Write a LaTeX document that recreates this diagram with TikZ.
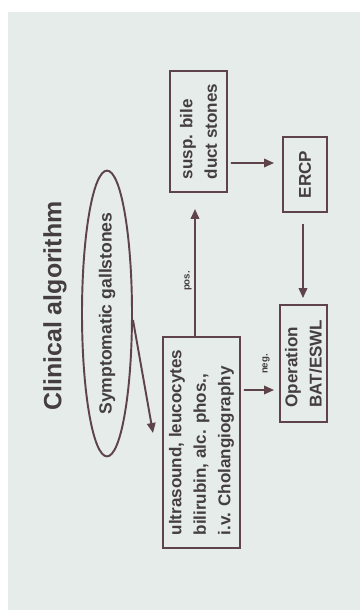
\documentclass[tikz,border=0pt]{standalone}
\usepackage{fontspec}
\setmainfont{Liberation Sans}
\usetikzlibrary{shapes.geometric, arrows.meta}
\definecolor{bgcol}{HTML}{E6ECEA}
\definecolor{inkcol}{HTML}{443E41}
\definecolor{linecol}{HTML}{5E434A}
\tikzset{
  box/.style={draw=linecol, line width=1.1pt, rotate=90, align=left, inner sep=0pt,
    text=inkcol, font=\bfseries\fontsize{9.7}{13.9}\selectfont},
  arr/.style={draw=linecol, line width=1.1pt, -{Triangle[length=0.2cm, width=0.17cm]}},
  lbl/.style={rotate=90, text=inkcol, font=\bfseries\fontsize{5.5}{6}\selectfont}
}

\begin{document}
\begin{tikzpicture}[x=0.02cm, y=-0.02cm]
    % Slide
    \fill[white] (0,0) rectangle (360,610);
    \fill[bgcol] (8,12) rectangle (360,610);
    \useasboundingbox (0,0) rectangle (360,610);

    % Title
    \node[rotate=90, text=inkcol, font=\bfseries\fontsize{14.2}{16}\selectfont] (title) at (55,306) {Clinical algorithm};

    % Start
    \node[ellipse, draw=linecol, line width=1.1pt, rotate=90, inner sep=0pt,
      minimum width=4.94cm, minimum height=1cm, text=inkcol,
      font=\bfseries\fontsize{10}{12}\selectfont] (gall) at (107,313.5) {Symptomatic gallstones};

    % Boxes
    \node[box, minimum width=4.22cm, minimum height=1.54cm] (tests) at (201.5,442.5)
      {ultrasound, leucocytes\\bilirubin, alc. phos.,\\i.v. Cholangiography};
    \node[box, minimum width=2.42cm, minimum height=1.14cm] (susp) at (198.5,131.5) {susp. bile\\duct stones};
    \node[box, minimum width=1.5cm, minimum height=0.88cm] (ercp) at (305,174.5) {ERCP};
    \node[box, minimum width=2.34cm, minimum height=0.94cm] (op) at (303.5,363.5) {Operation\\BAT/ESWL};

    % Arrows
    \draw[arr] ([shift={(26,6.5)}]gall.center) -- ([shift={(-48.5,-9.5)}]tests.center);
    \draw[arr] ([shift={(-6.5,0)}]tests.east) -- ([shift={(-3.5,16)}]susp.west);
    \node[lbl] (pos) at (188,281) {pos.};
    \draw[arr] ([shift={(3,31.5)}]susp.south) -- ([shift={(-8,-11.5)}]ercp.north);
    \draw[arr] ([shift={(-2,11)}]ercp.west) -- ([shift={(-0.5,-6)}]op.east);
    \draw[arr] ([shift={(3,-52.5)}]tests.south) -- ([shift={(-5,26.5)}]op.north);
    \node[lbl] (neg) at (266,364) {neg.};
\end{tikzpicture}
\end{document}
